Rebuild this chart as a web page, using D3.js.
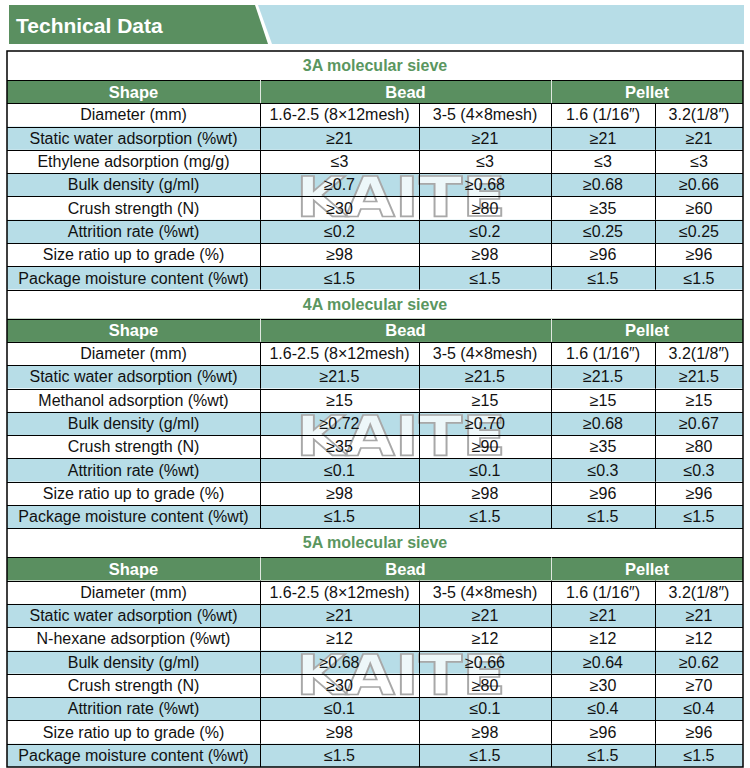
<!DOCTYPE html>
<html>
<head>
<meta charset="utf-8">
<script src="https://cdn.jsdelivr.net/npm/d3@7/dist/d3.min.js"></script>
<style>
  body { margin: 0; background: #fff; }
  text { font-family: "Liberation Sans", Arial, sans-serif; }
  text.wm { font-family: "DejaVu Sans", sans-serif; }
</style>
</head>
<body>
<svg id="chart" width="750" height="768"></svg>
<script>
// table contents
var sieveNames = ["3A molecular sieve", "4A molecular sieve", "5A molecular sieve"];
var shapeHeads = ["Shape", "Bead", "Pellet"];
var diameterSizes = ["1.6-2.5 (8×12mesh)", "3-5 (4×8mesh)", "1.6 (1/16″)", "3.2(1/8″)"];

var props3A = ["Static water adsorption (%wt)", "Ethylene adsorption (mg/g)", "Bulk density (g/ml)",
   "Crush strength (N)", "Attrition rate (%wt)", "Size ratio up to grade (%)", "Package moisture content (%wt)"];
var props4A = ["Static water adsorption (%wt)", "Methanol adsorption (%wt)", "Bulk density (g/ml)",
   "Crush strength (N)", "Attrition rate (%wt)", "Size ratio up to grade (%)", "Package moisture content (%wt)"];
var props5A = ["Static water adsorption (%wt)", "N-hexane adsorption (%wt)", "Bulk density (g/ml)",
   "Crush strength (N)", "Attrition rate (%wt)", "Size ratio up to grade (%)", "Package moisture content (%wt)"];

var values3A = [
   ["≥21", "≥21", "≥21", "≥21"],
   ["≤3", "≤3", "≤3", "≤3"],
   ["≥0.7", "≥0.68", "≥0.68", "≥0.66"],
   ["≥30", "≥80", "≥35", "≥60"],
   ["≤0.2", "≤0.2", "≤0.25", "≤0.25"],
   ["≥98", "≥98", "≥96", "≥96"],
   ["≤1.5", "≤1.5", "≤1.5", "≤1.5"]
];
var values4A = [
   ["≥21.5", "≥21.5", "≥21.5", "≥21.5"],
   ["≥15", "≥15", "≥15", "≥15"],
   ["≥0.72", "≥0.70", "≥0.68", "≥0.67"],
   ["≥35", "≥90", "≥35", "≥80"],
   ["≤0.1", "≤0.1", "≤0.3", "≤0.3"],
   ["≥98", "≥98", "≥96", "≥96"],
   ["≤1.5", "≤1.5", "≤1.5", "≤1.5"]
];
var values5A = [
   ["≥21", "≥21", "≥21", "≥21"],
   ["≥12", "≥12", "≥12", "≥12"],
   ["≥0.68", "≥0.66", "≥0.64", "≥0.62"],
   ["≥30", "≥80", "≥30", "≥70"],
   ["≤0.1", "≤0.1", "≤0.4", "≤0.4"],
   ["≥98", "≥98", "≥96", "≥96"],
   ["≤1.5", "≤1.5", "≤1.5", "≤1.5"]
];

var sectionProps = [props3A, props4A, props5A];
var sectionValues = [values3A, values4A, values5A];

var green = "#5a8f60", blue = "#b7dde7", titleGreen = "#5a9660";
var colEdges = [7, 260, 419, 551, 655, 743];
var titleUnits = 29 / 23.3;

var svg = d3.select("#chart");

// banner
svg.append("polygon").attr("points", "9,5 255,5 268,44 9,44").attr("fill", green);
svg.append("polygon").attr("points", "258,5 744,5 744,44 272,44").attr("fill", blue);
svg.append("text").attr("x", 16).attr("y", 33)
   .attr("fill", "#fff").attr("font-weight", "bold").attr("font-size", 21)
   .text("Technical Data");

// build row list
var rows = [];
var u = 0;
sieveNames.forEach(function(name, si) {
   rows.push({ type: "title", text: name, y0: u, h: titleUnits, sec: si }); u += titleUnits;
   rows.push({ type: "head", y0: u, h: 1, sec: si }); u += 1;
   rows.push({ type: "data", label: "Diameter (mm)", vals: diameterSizes, blue: false, y0: u, h: 1, sec: si }); u += 1;
   sectionProps[si].forEach(function(p, i) {
      rows.push({ type: "data", label: p, vals: sectionValues[si][i], blue: i % 2 == 0, y0: u, h: 1, sec: si, idx: i });
      u += 1;
   });
});

var y = d3.scaleLinear().domain([0, u]).range([51, 767]);

var g = svg.append("g");

// backgrounds
g.selectAll(".bg").data(rows).enter().append("rect")
   .attr("x", colEdges[0]).attr("width", colEdges[5] - colEdges[0])
   .attr("y", function(d) { return y(d.y0); })
   .attr("height", function(d) { return y(d.y0 + d.h) - y(d.y0); })
   .attr("fill", function(d) {
      if (d.type == "head") return green;
      if (d.type == "data" && d.blue) return blue;
      return "#fff";
   });

// watermarks (between bulk density and crush strength rows)
var wm = rows.filter(function(d) { return d.type == "data" && d.idx == 3; });
wm.forEach(function(d) {
   var t = g.append("text")
      .attr("class", "wm")
      .attr("font-size", 55).attr("font-weight", "bold")
      .attr("fill", "rgba(255,255,255,0.75)")
      .attr("stroke", "#a8a8a8").attr("stroke-width", 1.8)
      .attr("vector-effect", "non-scaling-stroke")
      .text("KAITE");
   // widen to the reference width (296 .. 506)
   var w = t.node().getComputedTextLength();
   t.attr("transform", "translate(296," + (y(d.y0) + 20) + ") scale(" + (210 / w) + ",1)");
});

// horizontal lines
g.selectAll(".hl").data(rows.filter(function(d) { return d.y0 > 0; })).enter().append("line")
   .attr("x1", colEdges[0]).attr("x2", colEdges[5])
   .attr("y1", function(d) { return Math.round(y(d.y0)) + 0.5; })
   .attr("y2", function(d) { return Math.round(y(d.y0)) + 0.5; })
   .attr("stroke", "#000").attr("stroke-width", 1);

// vertical lines
rows.forEach(function(d) {
   var top = y(d.y0), bot = y(d.y0 + d.h);
   var xs = [], col = "#000";
   if (d.type == "head") { xs = [colEdges[1], colEdges[3]]; col = "#dfe8df"; }
   if (d.type == "data") { xs = colEdges.slice(1, 5); }
   xs.forEach(function(x) {
      g.append("line").attr("x1", x + 0.5).attr("x2", x + 0.5)
         .attr("y1", top).attr("y2", bot)
         .attr("stroke", col).attr("stroke-width", 1);
   });
});

// texts
rows.forEach(function(d) {
   var mid = (y(d.y0) + y(d.y0 + d.h)) / 2;
   if (d.type == "title") {
      g.append("text").attr("x", 375).attr("y", mid + 5.5)
         .attr("text-anchor", "middle").attr("font-weight", "bold").attr("font-size", 16)
         .attr("fill", titleGreen).text(d.text);
   } else if (d.type == "head") {
      var centers = [(colEdges[0] + colEdges[1]) / 2, (colEdges[1] + colEdges[3]) / 2, (colEdges[3] + colEdges[5]) / 2];
      shapeHeads.forEach(function(h, i) {
         g.append("text").attr("x", centers[i]).attr("y", mid + 6)
            .attr("text-anchor", "middle").attr("font-weight", "bold").attr("font-size", 16.5)
            .attr("fill", "#fff").text(h);
      });
   } else {
      var cells = [d.label].concat(d.vals);
      cells.forEach(function(t, i) {
         g.append("text").attr("x", (colEdges[i] + colEdges[i + 1]) / 2).attr("y", mid + 5.5)
            .attr("text-anchor", "middle").attr("font-size", 16)
            .attr("fill", "#111").text(t);
      });
   }
});

// outer border
svg.append("rect").attr("x", colEdges[0]).attr("y", 51)
   .attr("width", colEdges[5] - colEdges[0]).attr("height", 716)
   .attr("fill", "none").attr("stroke", "#000").attr("stroke-width", 1.5);
</script>
</body>
</html>
